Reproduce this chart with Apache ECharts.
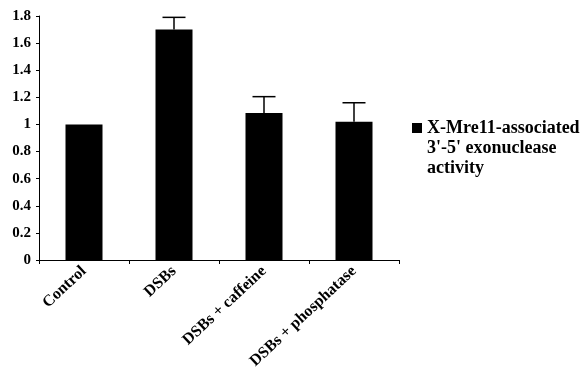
<!DOCTYPE html>
<html><head><meta charset="utf-8">
<script src="https://cdn.jsdelivr.net/npm/echarts@6/dist/echarts.min.js"></script>
<style>html,body{margin:0;padding:0;background:#fff}#c{width:583px;height:369px}</style>
</head><body><div id="c"></div>
<script>
var categories = ['Control', 'DSBs', 'DSBs + caffeine', 'DSBs + phosphatase'];
var values = [1.0, 1.70, 1.085, 1.02];
var errorTops = [1.0, 1.79, 1.205, 1.16];
var yTicks = ['0','0.2','0.4','0.6','0.8','1','1.2','1.4','1.6','1.8'];
var seriesName = "X-Mre11-associated\n3'-5' exonuclease\nactivity";

var font = '"Liberation Serif", "Times New Roman", serif';
var chart = echarts.init(document.getElementById('c'));
chart.setOption({
  animation: false,
  grid: {left: 39, right: 184, top: 16, bottom: 109, outerBoundsMode: 'none', containLabel: false},
  legend: {
    left: 412, top: 118, itemWidth: 10, itemHeight: 60, itemGap: 0, padding: 0,
    icon: 'path://M0,0L0.01,0M0,5L10,5L10,15L0,15ZM0,60L0.01,60',
    data: [seriesName],
    textStyle: {fontFamily: font, fontWeight: 'bold', fontSize: 18, color: '#000', lineHeight: 20}
  },
  xAxis: {
    type: 'category', data: categories,
    axisLine: {lineStyle: {color: '#000', width: 1}},
    axisTick: {show: true, length: 4, lineStyle: {color: '#000'}},
    axisLabel: {rotate: 43, fontFamily: font, fontWeight: 'bold', fontSize: 16, color: '#000', margin: 9}
  },
  yAxis: {
    type: 'value', min: 0, max: 1.8, interval: 0.2,
    splitLine: {show: false},
    axisLine: {show: true, lineStyle: {color: '#000', width: 1}},
    axisTick: {show: true, length: 3, lineStyle: {color: '#000'}},
    axisLabel: {fontFamily: font, fontWeight: 'bold', fontSize: 15, color: '#000', margin: 8,
      formatter: function (v) { return yTicks[Math.round(v / 0.2)]; }}
  },
  series: [
    {
      name: seriesName, type: 'bar', data: values, barWidth: 37,
      itemStyle: {color: '#000'}
    },
    {
      type: 'custom', silent: true,
      data: categories.map(function (c, i) { return [i, values[i], errorTops[i]]; }),
      renderItem: function (params, api) {
        var x = api.value(0);
        var lo = api.coord([x, api.value(1)]);
        var hi = api.coord([x, api.value(2)]);
        if (Math.abs(lo[1] - hi[1]) < 1) return {type: 'group', children: []};
        var w = 11.5;
        return {type: 'group', children: [
          {type: 'line', shape: {x1: lo[0], y1: lo[1], x2: hi[0], y2: hi[1]}, style: {stroke: '#000', lineWidth: 1.5}},
          {type: 'line', shape: {x1: hi[0] - w, y1: hi[1], x2: hi[0] + w, y2: hi[1]}, style: {stroke: '#000', lineWidth: 1.5}}
        ]};
      },
      z: 3
    }
  ]
});
</script></body></html>
